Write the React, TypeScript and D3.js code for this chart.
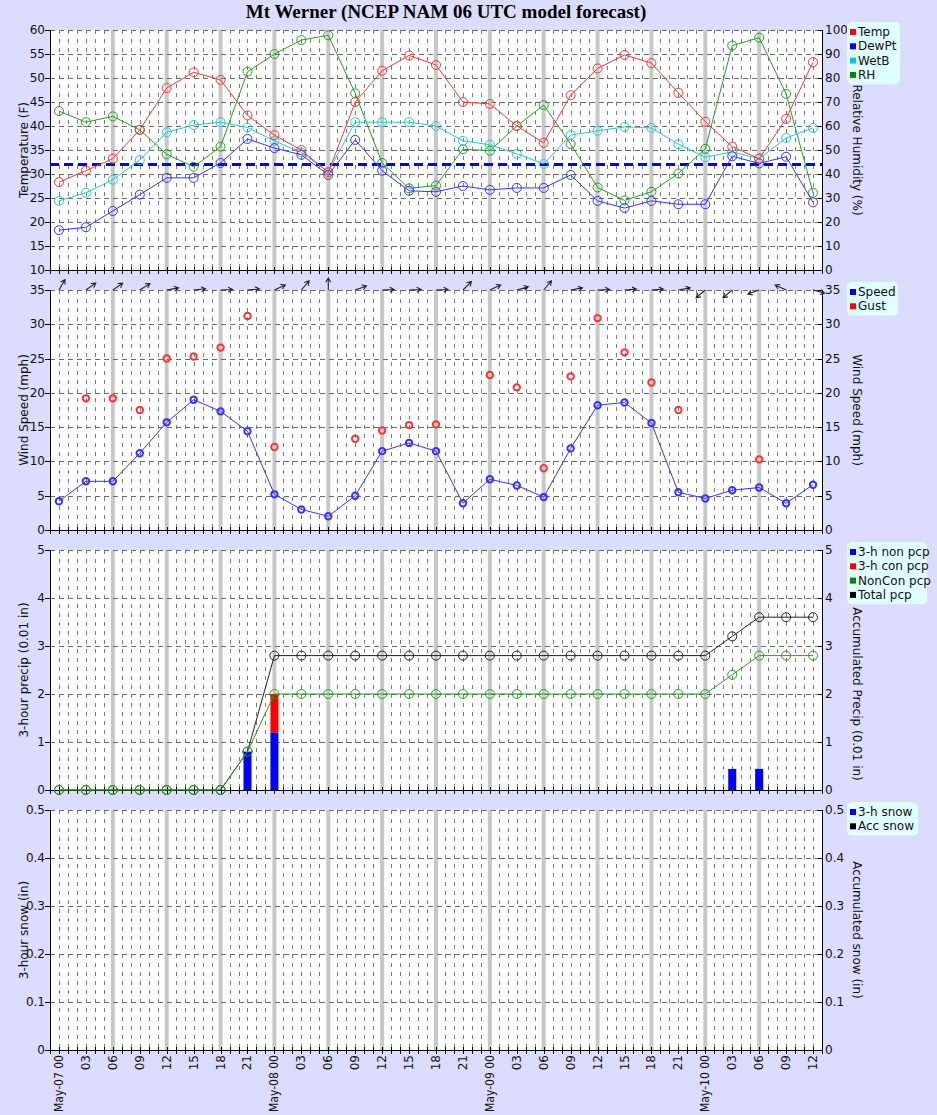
import { useEffect } from 'react';
import * as d3 from 'd3';

// forecast hours from May-07 00 UTC
const hours = [0, 3, 6, 9, 12, 15, 18, 21, 24, 27, 30, 33, 36, 39, 42, 45, 48, 51, 54, 57, 60, 63, 66, 69, 72, 75, 78, 81, 84];
const hourLabels = [
  'May-07 00', '03', '06', '09', '12', '15', '18', '21',
  'May-08 00', '03', '06', '09', '12', '15', '18', '21',
  'May-09 00', '03', '06', '09', '12', '15', '18', '21',
  'May-10 00', '03', '06', '09', '12',
];

const tempF = [28.3, 30.7, 33.2, 39.2, 47.9, 51.2, 49.6, 42.2, 38.1, 35.0, 30.3, 45.0, 51.5, 54.7, 52.7, 45.0, 44.6, 40.0, 36.5, 46.4, 52.0, 54.8, 53.1, 46.9, 40.9, 35.7, 33.2, 41.5, 53.3];
const dewPtF = [18.3, 18.9, 22.3, 25.7, 29.2, 29.2, 32.3, 37.3, 35.4, 34.0, 29.8, 37.1, 30.7, 26.5, 26.3, 27.5, 26.7, 27.1, 27.1, 29.8, 24.4, 22.9, 24.4, 23.7, 23.7, 33.7, 32.2, 33.6, 24.1];
const wetBulbF = [24.4, 26.1, 28.8, 32.9, 38.7, 40.2, 40.8, 39.7, 36.9, 34.5, 30.5, 40.8, 40.8, 40.8, 40.0, 36.9, 36.1, 34.2, 32.1, 38.1, 39.0, 39.8, 39.6, 36.2, 33.5, 34.6, 33.2, 37.5, 39.6];
const relHum = [66.2, 61.6, 64.0, 58.4, 48.2, 43.0, 51.4, 82.6, 90.0, 95.8, 97.8, 73.6, 44.6, 34.0, 35.2, 50.3, 49.7, 60.0, 68.7, 52.5, 34.4, 29.0, 32.6, 40.2, 50.5, 93.5, 96.8, 73.4, 32.2];
const freezingF = 32;

const windSpeed = [4.2, 7.1, 7.1, 11.2, 15.7, 19.0, 17.3, 14.4, 5.2, 3.0, 2.0, 5.0, 11.5, 12.7, 11.5, 3.9, 7.4, 6.5, 4.8, 11.9, 18.2, 18.6, 15.6, 5.5, 4.6, 5.8, 6.2, 3.9, 6.6];
const windGust: (number | null)[] = [null, 19.2, 19.2, 17.5, 25.0, 25.3, 26.6, 31.2, 12.1, null, null, 13.3, 14.5, 15.3, 15.4, null, 22.6, 20.8, 9.0, 22.4, 30.9, 25.9, 21.5, 17.5, null, null, 10.3, null, null];
// compass bearing the arrow points to (deg)
const arrowBearing = [30, 55, 55, 58, 80, 84, 88, 85, 65, 40, 0, 70, 88, 88, 88, 45, 65, 75, 40, 80, 88, 86, 86, 80, 230, 230, 250, 295, 105];

const pcpNon3h = [0, 0, 0, 0, 0, 0, 0, 0.8, 1.2, 0, 0, 0, 0, 0, 0, 0, 0, 0, 0, 0, 0, 0, 0, 0, 0, 0.44, 0.44, 0, 0];
const pcpCon3h = [0, 0, 0, 0, 0, 0, 0, 0, 0.8, 0, 0, 0, 0, 0, 0, 0, 0, 0, 0, 0, 0, 0, 0, 0, 0, 0, 0, 0, 0];
const accNonCon = [0, 0, 0, 0, 0, 0, 0, 0.8, 2.0, 2.0, 2.0, 2.0, 2.0, 2.0, 2.0, 2.0, 2.0, 2.0, 2.0, 2.0, 2.0, 2.0, 2.0, 2.0, 2.0, 2.4, 2.8, 2.8, 2.8];
const accTotal = [0, 0, 0, 0, 0, 0, 0, 0.8, 2.8, 2.8, 2.8, 2.8, 2.8, 2.8, 2.8, 2.8, 2.8, 2.8, 2.8, 2.8, 2.8, 2.8, 2.8, 2.8, 2.8, 3.2, 3.6, 3.6, 3.6];

const FONT = 'DejaVu Sans, Verdana, sans-serif';
const L = 50;
const R = 822;

const x = d3.scaleLinear().domain([-1, 85]).range([L, R]);

type Panel = {
  top: number;
  bottom: number;
  left: d3.ScaleLinear<number, number>;
  right: d3.ScaleLinear<number, number>;
  nTicks: number;
  nTicksR: number;
  leftTitle: string;
  rightTitle: string;
  rightTitleY?: number;
  fmt: (v: number) => string;
  legend: { label: string; color: string }[];
  legendW: number;
};

const tempY = d3.scaleLinear().domain([10, 60]).range([270, 30]);
const rhY = d3.scaleLinear().domain([0, 100]).range([270, 30]);
const windY = d3.scaleLinear().domain([0, 35]).range([530, 290]);
const pcpY = d3.scaleLinear().domain([0, 5]).range([790, 550]);
const snowY = d3.scaleLinear().domain([0, 0.5]).range([1050, 810]);

const panels: Panel[] = [
  {
    top: 30, bottom: 270, left: tempY, right: rhY, nTicks: 10, nTicksR: 10,
    leftTitle: 'Temperature (F)', rightTitle: 'Relative Humidity (%)', fmt: d3.format('d'),
    legend: [
      { label: 'Temp', color: '#ff0000' },
      { label: 'DewPt', color: '#0000ff' },
      { label: 'WetB', color: '#00cccc' },
      { label: 'RH', color: '#008800' },
    ],
    legendW: 53,
  },
  {
    top: 290, bottom: 530, left: windY, right: windY, nTicks: 7, nTicksR: 7,
    leftTitle: 'Wind Speed (mph)', rightTitle: 'Wind Speed (mph)', fmt: d3.format('d'),
    legend: [
      { label: 'Speed', color: '#0000ff' },
      { label: 'Gust', color: '#ff0000' },
    ],
    legendW: 51,
  },
  {
    top: 550, bottom: 790, left: pcpY, right: pcpY, nTicks: 5, nTicksR: 5,
    leftTitle: '3-hour precip (0.01 in)', rightTitle: 'Accumulated Precip (0.01 in)', rightTitleY: 694, fmt: d3.format('d'),
    legend: [
      { label: '3-h non pcp', color: '#0000ff' },
      { label: '3-h con pcp', color: '#ff0000' },
      { label: 'NonCon pcp', color: '#008800' },
      { label: 'Total pcp', color: '#000000' },
    ],
    legendW: 80,
  },
  {
    top: 810, bottom: 1050, left: snowY, right: snowY, nTicks: 5, nTicksR: 5,
    leftTitle: '3-hour snow (in)', rightTitle: 'Accumulated snow (in)', fmt: (v) => (v === 0 ? '0' : d3.format('.1f')(v)),
    legend: [
      { label: '3-h snow', color: '#0000ff' },
      { label: 'Acc snow', color: '#000000' },
    ],
    legendW: 71,
  },
];

const hourGrid = d3.range(0, 85);
const sixHour = d3.range(6, 79, 6);
const tickHours = d3.range(-1, 86);

function PanelFrame({ p }: { p: Panel }) {
  const ticksL = p.left.ticks(p.nTicks);
  const ticksR = p.right.ticks(p.nTicksR);
  const mid = (p.top + p.bottom) / 2;
  return (
    <g>
      <rect x={L} y={p.top} width={R - L} height={p.bottom - p.top} fill="#ffffff" />
      {hourGrid.map((h) => (
        <line key={'v' + h} x1={Math.round(x(h)) + 0.5} x2={Math.round(x(h)) + 0.5} y1={p.top} y2={p.bottom}
          stroke="#7a7a7a" strokeWidth={1} strokeDasharray="4,5" shapeRendering="crispEdges" />
      ))}
      {sixHour.map((h) => (
        <line key={'g' + h} x1={x(h)} x2={x(h)} y1={p.top} y2={p.bottom} stroke="#c8c8c8" strokeWidth={4} />
      ))}
      {ticksL.map((t) => (
        <line key={'h' + t} x1={L} x2={R} y1={Math.round(p.left(t)) + 0.5} y2={Math.round(p.left(t)) + 0.5}
          stroke="#6a6a6a" strokeWidth={1} strokeDasharray="5,4" shapeRendering="crispEdges" />
      ))}
      {/* axes */}
      <line x1={L + 0.5} x2={L + 0.5} y1={p.top} y2={p.bottom} stroke="#000" shapeRendering="crispEdges" />
      <line x1={R + 0.5} x2={R + 0.5} y1={p.top} y2={p.bottom} stroke="#000" shapeRendering="crispEdges" />
      <line x1={L} x2={R + 1} y1={p.bottom + 0.5} y2={p.bottom + 0.5} stroke="#000" shapeRendering="crispEdges" />
      {tickHours.map((h) => (
        <line key={'t' + h} x1={Math.round(x(h)) + 0.5} x2={Math.round(x(h)) + 0.5} y1={p.bottom - 3} y2={p.bottom + 4}
          stroke="#000" shapeRendering="crispEdges" />
      ))}
      {ticksL.map((t) => (
        <g key={'l' + t}>
          <line x1={L - 5} x2={L} y1={Math.round(p.left(t)) + 0.5} y2={Math.round(p.left(t)) + 0.5} stroke="#000" shapeRendering="crispEdges" />
          <text x={L - 5} y={p.left(t) + 4} textAnchor="end" fontFamily={FONT} fontSize={12} fill="#111">{p.fmt(t)}</text>
        </g>
      ))}
      {ticksR.map((t) => (
        <g key={'r' + t}>
          <line x1={R - 4} x2={R + 1} y1={Math.round(p.right(t)) + 0.5} y2={Math.round(p.right(t)) + 0.5} stroke="#000" shapeRendering="crispEdges" />
          <text x={R + 3} y={p.right(t) + 4} textAnchor="start" fontFamily={FONT} fontSize={12} fill="#111">{p.fmt(t)}</text>
        </g>
      ))}
      <text transform={`translate(28,${mid}) rotate(-90)`} textAnchor="middle" fontFamily={FONT} fontSize={12} fill="#111">{p.leftTitle}</text>
      <text transform={`translate(853,${p.rightTitleY ?? mid}) rotate(90)`} textAnchor="middle" fontFamily={FONT} fontSize={12} fill="#111">{p.rightTitle}</text>
      {/* legend */}
      <rect x={847} y={p.top - 8} width={p.legendW} height={p.legend.length * 14.3 + 5} rx={5} fill="#e0ffff" />
      {p.legend.map((it, i) => (
        <g key={it.label}>
          <rect x={850} y={p.top - 1 + i * 14.3} width={6} height={6} fill={it.color} />
          <text x={858} y={p.top + 6 + i * 14.3} fontFamily={FONT} fontSize={12} fill="#111">{it.label}</text>
        </g>
      ))}
    </g>
  );
}

function Series({ values, y, color, stroke, r = 4.5, sw = 1, line = true }: {
  values: (number | null)[]; y: d3.ScaleLinear<number, number>; color: string; stroke?: string; r?: number; sw?: number; line?: boolean;
}) {
  const gen = d3.line<number | null>()
    .defined((d) => d !== null)
    .x((_, i) => x(hours[i]))
    .y((d) => y(d as number));
  return (
    <g>
      {line && <path d={gen(values) || ''} fill="none" stroke={color} strokeWidth={1} />}
      {values.map((v, i) => v === null ? null : (
        <circle key={i} cx={x(hours[i])} cy={y(v)} r={r} fill="none" stroke={stroke || color} strokeWidth={sw} />
      ))}
    </g>
  );
}

export default function App() {
  useEffect(() => {
    document.body.style.margin = '0';
  }, []);

  const barW = 8;
  const arrowLen = 12;

  return (
    <svg width={937} height={1115} style={{ display: 'block' }}>
      <rect width={937} height={1115} fill="#dcdcfe" />
      <text x={446} y={18} textAnchor="middle" fontFamily="Liberation Serif, Times New Roman, serif" fontWeight="bold" fontSize={19} fill="#000">
        Mt Werner (NCEP NAM 06 UTC model forecast)
      </text>
      {panels.map((p, i) => <PanelFrame key={i} p={p} />)}

      {/* panel 1 */}
      <line x1={L} x2={R} y1={tempY(freezingF)} y2={tempY(freezingF)} stroke="#0000ee" strokeWidth={3} strokeDasharray="9,5" />
      <Series values={relHum} y={rhY} color="#22a022" />
      <Series values={wetBulbF} y={tempY} color="#22cccc" />
      <Series values={dewPtF} y={tempY} color="#3333ff" />
      <Series values={tempF} y={tempY} color="#ff3333" />

      {/* wind arrows */}
      {arrowBearing.map((b, i) => {
        const a = ((90 - b) * Math.PI) / 180;
        const x0 = x(hours[i]);
        const y0 = 290;
        const x1 = x0 + arrowLen * Math.cos(a);
        const y1 = y0 - arrowLen * Math.sin(a);
        const h1 = a + Math.PI * 0.83;
        const h2 = a - Math.PI * 0.83;
        return (
          <path key={i}
            d={`M${x0},${y0}L${x1},${y1}M${x1 + 5 * Math.cos(h1)},${y1 - 5 * Math.sin(h1)}L${x1},${y1}L${x1 + 5 * Math.cos(h2)},${y1 - 5 * Math.sin(h2)}`}
            fill="none" stroke="#222" strokeWidth={1.1} />
        );
      })}

      {/* panel 2 */}
      <Series values={windGust} y={windY} color="#ff3333" r={3.2} sw={2} line={false} />
      <Series values={windSpeed} y={windY} color="#3333ff" r={3.2} sw={2} />

      {/* panel 3 */}
      {hours.map((h, i) => (
        <g key={'b' + h}>
          {pcpNon3h[i] > 0 && (
            <rect x={x(h) - barW / 2} y={pcpY(pcpNon3h[i])} width={barW} height={pcpY(0) - pcpY(pcpNon3h[i])} fill="#0000ff" />
          )}
          {pcpCon3h[i] > 0 && (
            <rect x={x(h) - barW / 2} y={pcpY(pcpNon3h[i] + pcpCon3h[i])} width={barW}
              height={pcpY(pcpNon3h[i]) - pcpY(pcpNon3h[i] + pcpCon3h[i])} fill="#ff0000" />
          )}
        </g>
      ))}
      <Series values={accTotal} y={pcpY} color="#222" />
      <Series values={accNonCon} y={pcpY} color="#22a022" />

      {/* x labels */}
      {hours.map((h, i) => {
        const long = hourLabels[i].length > 3;
        return (
          <text key={'x' + h} transform={`translate(${x(h) + 4},1055) rotate(-90)`} textAnchor="end"
            fontFamily={FONT} fontSize={12} fill="#111"
            {...(long ? { textLength: 57, lengthAdjust: 'spacingAndGlyphs' } : {})}>{hourLabels[i]}</text>
        );
      })}
    </svg>
  );
}
